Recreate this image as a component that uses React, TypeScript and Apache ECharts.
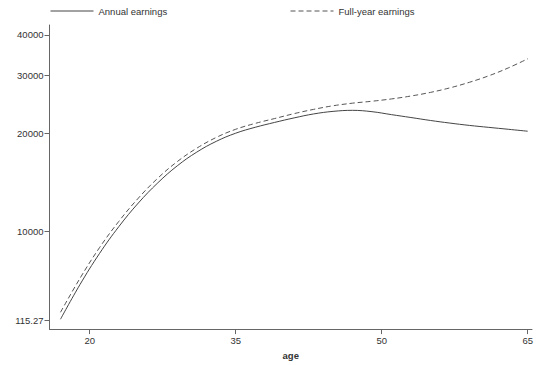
import React, { useEffect, useRef } from "react";
import * as echarts from "echarts";

const ages = [17, 19, 21, 23, 25, 27, 29, 31, 33, 35, 37, 39, 41, 43, 45, 47, 49, 51, 53, 55, 57, 59, 61, 63, 65];
const annualEarnings = [5380, 6870, 8550, 10350, 12220, 14090, 15890, 17500, 18880, 20000, 20850, 21580, 22280, 22910, 23330, 23500, 23280, 22800, 22340, 21880, 21480, 21130, 20840, 20560, 20280];
const fullYearEarnings = [5650, 7180, 8910, 10740, 12650, 14560, 16370, 17990, 19410, 20560, 21430, 22180, 22960, 23660, 24270, 24720, 25060, 25470, 26000, 26670, 27540, 28640, 29990, 31700, 33810];

const yTickValues = [5346, 10000, 20000, 30000, 40000];
const yTickLabels = ["115.27", "10000", "20000", "30000", "40000"];
const xTickValues = [20, 35, 50, 65];

const FONT = "'Liberation Sans', Arial, sans-serif";
const TEXT = "#333";
const AXIS = "#666";

export default function App() {
  const ref = useRef<HTMLDivElement>(null);
  useEffect(() => {
    if (!ref.current) return;
    const chart = echarts.init(ref.current, undefined, { renderer: "svg" });
    const mk = (vals: number[]) => ages.map((a, i) => [a, vals[i]]);
    const legendBase = {
      top: 1,
      itemWidth: 43,
      itemHeight: 10,
      itemGap: 5,
      itemStyle: { opacity: 0 },
      lineStyle: { width: 1 },
      textStyle: { fontSize: 9.5, color: TEXT, fontFamily: FONT },
    };
    chart.setOption({
      animation: false,
      backgroundColor: "#fff",
      textStyle: { fontFamily: FONT },
      legend: [
        { ...legendBase, data: ["Annual earnings"], left: 45 },
        { ...legendBase, data: ["Full-year earnings"], left: 285 },
      ],
      grid: { left: 49.5, right: 0, top: 25, bottom: 35, containLabel: false },
      xAxis: {
        type: "value",
        min: 15.87,
        max: 65.44,
        name: "age",
        nameLocation: "middle",
        nameGap: 14,
        nameTextStyle: { fontSize: 9.5, color: TEXT, fontWeight: "bold", fontFamily: FONT },
        axisLine: { lineStyle: { color: AXIS, width: 1 } },
        axisTick: { show: true, length: 5, customValues: xTickValues, lineStyle: { color: AXIS } },
        axisLabel: { customValues: xTickValues, fontSize: 9.5, color: TEXT, margin: 6, fontFamily: FONT },
        splitLine: { show: false },
      },
      yAxis: {
        type: "log",
        logBase: 10,
        min: 5018,
        max: 42920,
        axisLine: { show: true, lineStyle: { color: AXIS, width: 1 } },
        axisTick: { show: true, length: 5, customValues: yTickValues, lineStyle: { color: AXIS } },
        axisLabel: {
          customValues: yTickValues,
          fontSize: 9.5,
          color: TEXT,
          margin: 6,
          fontFamily: FONT,
          formatter: (v: number) => {
            let best = 0;
            let bd = Infinity;
            yTickValues.forEach((t, i) => {
              const d = Math.abs(Math.log(t) - Math.log(v));
              if (d < bd) { bd = d; best = i; }
            });
            return yTickLabels[best];
          },
        },
        splitLine: { show: false },
        minorTick: { show: false },
      },
      series: [
        {
          name: "Annual earnings",
          type: "line",
          data: mk(annualEarnings),
          smooth: 0.4,
          symbol: "none",
          lineStyle: { color: "#444", width: 1, type: "solid" },
          itemStyle: { color: "#444" },
        },
        {
          name: "Full-year earnings",
          type: "line",
          data: mk(fullYearEarnings),
          smooth: 0.4,
          symbol: "none",
          lineStyle: { color: "#555", width: 1, type: [5, 3] },
          itemStyle: { color: "#555" },
        },
      ],
    });
    return () => chart.dispose();
  }, []);
  return <div ref={ref} style={{ width: 536, height: 365, position: "absolute", left: 0, top: 0 }} />;
}
